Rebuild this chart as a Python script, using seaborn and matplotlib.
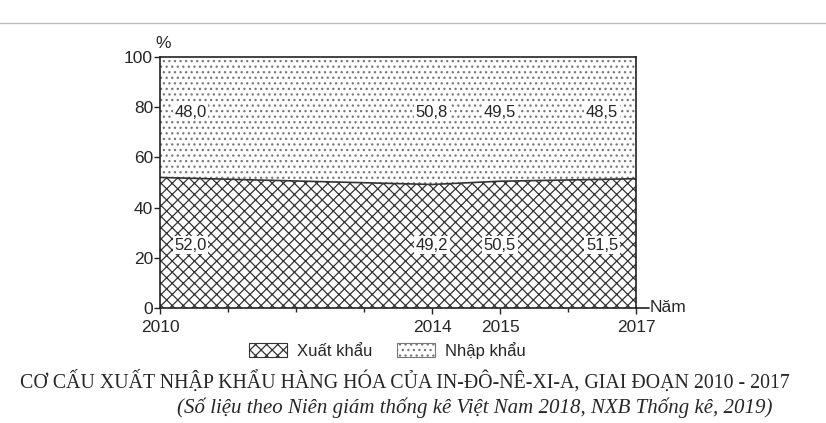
import matplotlib
matplotlib.use("Agg")
import matplotlib.pyplot as plt
import matplotlib.patches as mpatches
import seaborn as sns

# data
years = [2010, 2014, 2015, 2017]
xuat_khau = [52.0, 49.2, 50.5, 51.5]
nhap_khau = [48.0, 50.8, 49.5, 48.5]
label_x = [2010.45, 2014, 2015, 2016.5]
xk_labels = ["52,0", "49,2", "50,5", "51,5"]
nk_labels = ["48,0", "50,8", "49,5", "48,5"]

sns.set_style("white")
plt.rcParams["font.family"] = ["Liberation Sans", "DejaVu Sans"]
plt.rcParams["hatch.linewidth"] = 0.9

XK_HATCH = "xxx"
NK_HATCH = "..."

fig = plt.figure(figsize=(8.26, 4.23), dpi=100)
ax = fig.add_axes([0.1937, 0.2719, 0.5763, 0.5934])

top = [a + b for a, b in zip(xuat_khau, nhap_khau)]
ax.fill_between(years, 0, xuat_khau, facecolor="white", edgecolor="#333333",
                hatch=XK_HATCH, linewidth=0)
ax.fill_between(years, xuat_khau, top, facecolor="white", edgecolor="#777777",
                hatch=NK_HATCH, linewidth=0)
sns.lineplot(x=years, y=xuat_khau, ax=ax, color="#333333", linewidth=1.2)

box = dict(boxstyle="square,pad=0.1", facecolor="white", edgecolor="none")
for x, a, b in zip(label_x, xk_labels, nk_labels):
    ax.text(x, 25, a, ha="center", va="center", fontsize=12, bbox=box)
    ax.text(x, 78, b, ha="center", va="center", fontsize=12, bbox=box)

ax.set_xlim(2010, 2017)
ax.set_ylim(0, 100)
ax.set_yticks(range(0, 101, 20))
ax.set_xticks(years)
ax.set_xticklabels([str(y) for y in years])
ax.set_xticks(range(2011, 2017), minor=True)
ax.tick_params(axis="both", which="major", direction="out", length=4, width=1,
               color="#222222", labelsize=12.5, pad=1)
ax.tick_params(axis="x", which="major", bottom=True, pad=5)
ax.tick_params(axis="x", which="minor", direction="out", length=3, width=1,
               color="#222222", bottom=True)
ax.tick_params(axis="y", left=True)
for s in ax.spines.values():
    s.set_color("#222222")
    s.set_linewidth(1.2)

# x axis extension and labels
fig.add_artist(plt.Line2D([0.77, 0.786], [0.2719, 0.2719], color="#222222",
                          linewidth=1.2, transform=fig.transFigure))
fig.text(0.786, 0.2719, "Năm", ha="left", va="center", fontsize=12.5)
fig.text(0.198, 0.88, "%", ha="center", va="bottom", fontsize=12.5)

handles = [mpatches.Patch(facecolor="white", edgecolor="#333333", hatch=XK_HATCH,
                          linewidth=0.8, label="Xuất khẩu"),
           mpatches.Patch(facecolor="white", edgecolor="#777777", hatch=NK_HATCH,
                          linewidth=0.8, label="Nhập khẩu")]
fig.legend(handles=handles, loc="center", bbox_to_anchor=(0.469, 0.172), ncol=2,
           frameon=False, fontsize=12, handlelength=2.3, handleheight=0.9,
           columnspacing=1.45, handletextpad=0.6)

fig.add_artist(plt.Line2D([0, 1], [0.946, 0.946], color="#bbbbbb",
                          linewidth=1, transform=fig.transFigure))

fig.text(0.49, 0.098, "CƠ CẤU XUẤT NHẬP KHẨU HÀNG HÓA CỦA IN-ĐÔ-NÊ-XI-A, GIAI ĐOẠN 2010 - 2017",
         ha="center", va="center", fontsize=14.3, family=["Liberation Serif", "DejaVu Serif"])
fig.text(0.575, 0.035, "(Số liệu theo Niên giám thống kê Việt Nam 2018, NXB Thống kê, 2019)",
         ha="center", va="center", fontsize=15, style="italic",
         family=["Liberation Serif", "DejaVu Serif"])

fig.savefig("out.png", dpi=100)
